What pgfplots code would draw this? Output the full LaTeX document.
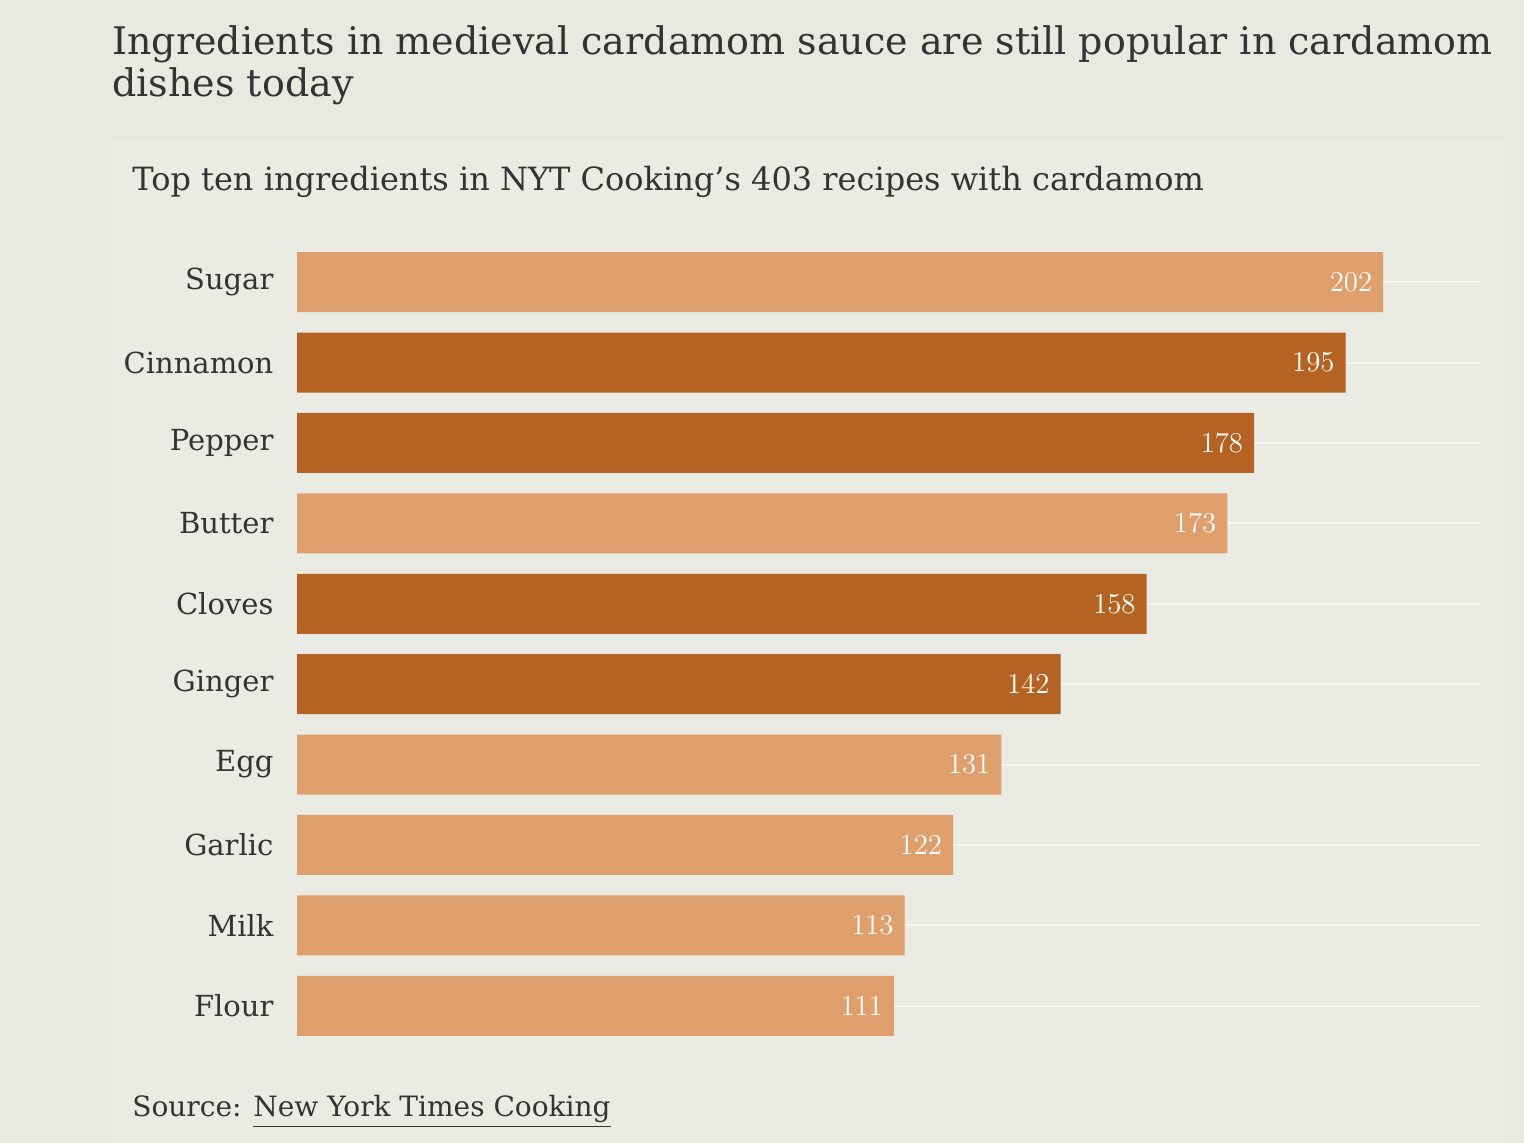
\documentclass[border=0pt]{standalone}
\usepackage{pgfplots}
\pgfplotsset{compat=1.18}
\usepackage{fontspec}
\setmainfont{DejaVu Serif}
\definecolor{bg}{HTML}{E8E9DF}
\definecolor{panel}{HTML}{EAEBE2}
\definecolor{lightbar}{HTML}{DF9F6C}
\definecolor{darkbar}{HTML}{B56322}
\definecolor{txt}{HTML}{333333}
\begin{document}
\begin{tikzpicture}
\path[fill=bg] (0,0) rectangle (762pt,571.5pt);
\path[fill=panel] (56pt,0) rectangle (753pt,501pt);
\node[anchor=north west,align=left,text=txt,font=\fontsize{19}{21}\selectfont,inner sep=0pt] at (56pt,559pt)
 {Ingredients in medieval cardamom sauce are still popular in cardamom\\dishes today};
\node[anchor=base west,text=txt,font=\fontsize{16}{18}\selectfont,inner sep=0pt] at (66pt,476pt)
 {Top ten ingredients in NYT Cooking’s 403 recipes with cardamom};
\node[anchor=base west,text=txt,font=\fontsize{14}{16}\selectfont,inner sep=0pt] at (66pt,13pt)
 {Source: \underline{New York Times Cooking}};
\begin{axis}[at={(148.5pt,48.5pt)},anchor=south west,scale only axis,
 width=591.5pt,height=402pt,xbar,bar shift=0pt,bar width=30pt,
 xmin=0,xmax=220,ymin=0.5,ymax=10.5,
 axis line style={draw=none},tick style={draw=none},
 xticklabels={},ytick={1,...,10},
 yticklabels={Flour,Milk,Garlic,Egg,Ginger,Cloves,Butter,Pepper,Cinnamon,Sugar},
 yticklabel style={text=txt,font=\fontsize{14.5}{16}\selectfont,xshift=-4pt},
 ymajorgrids,grid style={white!60!bg,line width=1pt},
 nodes near coords,nodes near coords align={anchor=east},
 every node near coord/.append style={text=white,font=\bfseries\fontsize{15}{16}\selectfont,xshift=-2pt},
 ]
\addplot[fill=lightbar,draw=none] coordinates {(202,10) (173,7) (131,4) (122,3) (113,2) (111,1)};
\addplot[fill=darkbar,draw=none] coordinates {(195,9) (178,8) (158,6) (142,5)};
\end{axis}
\end{tikzpicture}
\end{document}
